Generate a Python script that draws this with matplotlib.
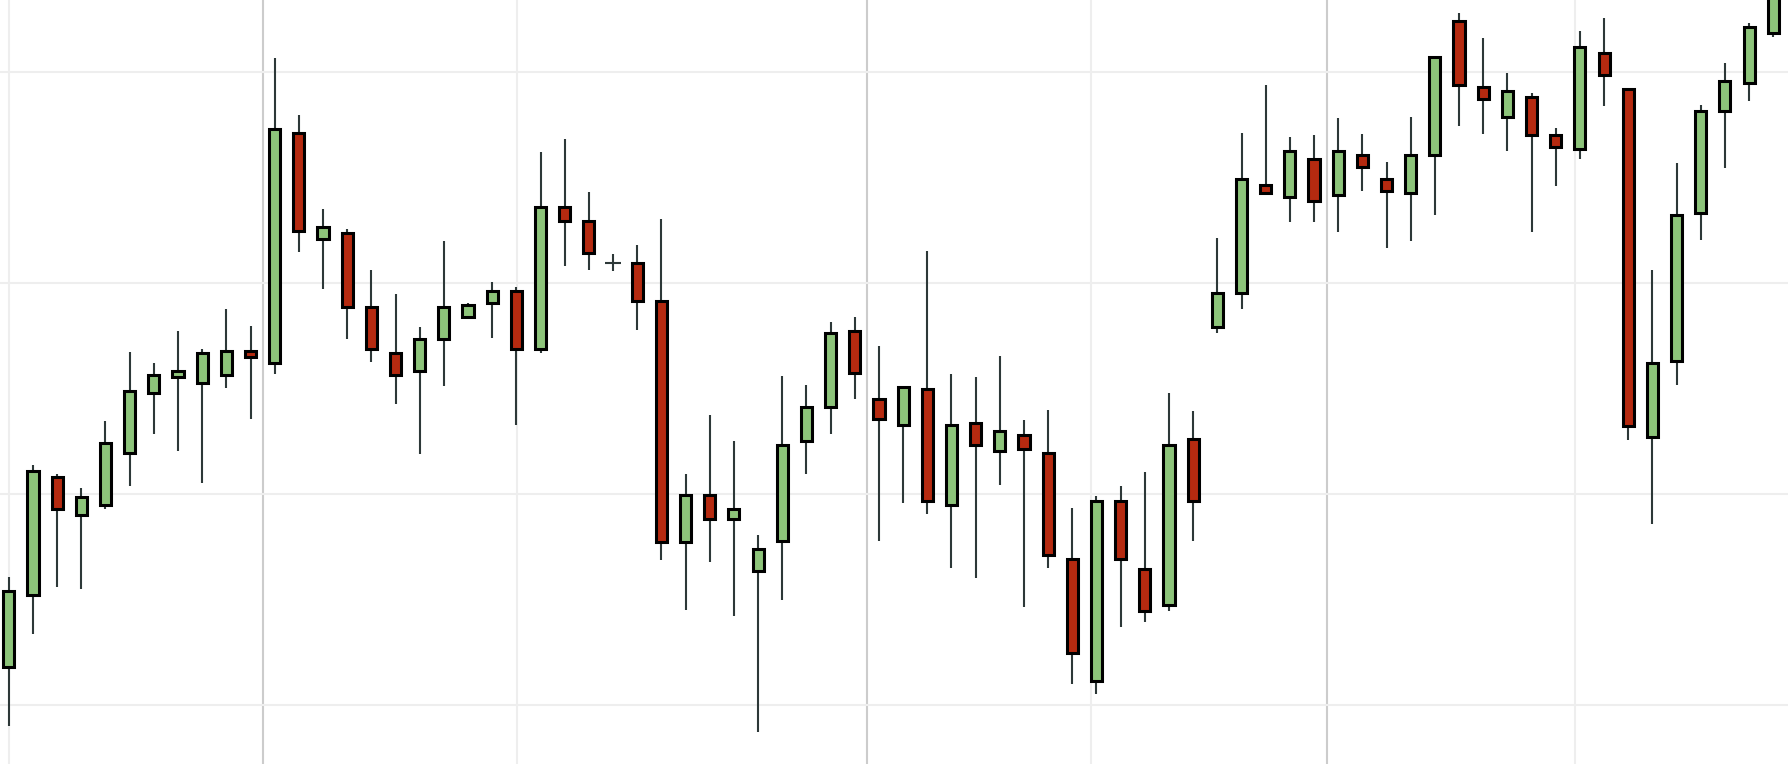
import matplotlib
matplotlib.use('Agg')
import matplotlib.pyplot as plt
import numpy as np

# daily OHLC
opens = [81.81, 85.21, 90.79, 89.01, 89.48, 91.92, 94.76, 95.55, 95.25, 95.61,
         96.77, 96.19, 107.09, 102.08, 102.35, 98.85, 96.68, 95.82, 97.32, 98.36,
         99.03, 99.61, 96.86, 103.58, 102.91, 100.92, 100.92, 99.12, 87.70, 89.94,
         88.81, 86.36, 87.77, 92.50, 94.11, 97.72, 94.48, 93.26, 94.97, 89.48,
         93.35, 92.01, 92.78, 91.92, 86.91, 81.12, 89.68, 86.43, 84.72, 92.59,
         97.92, 99.52, 104.62, 104.06, 105.86, 104.15, 106.05, 104.92, 104.25, 106.05,
         112.39, 109.26, 107.85, 108.79, 106.99, 106.32, 110.87, 109.16, 92.68, 96.28,
         103.30, 108.12, 109.46, 111.82]
highs = [86.08, 91.34, 90.95, 90.26, 93.47, 96.72, 96.19, 97.69, 96.86, 98.75,
         97.97, 110.62, 107.92, 103.51, 102.52, 100.62, 99.47, 97.88, 101.98, 99.05,
         100.02, 99.79, 106.21, 106.79, 104.29, 101.34, 101.80, 103.00, 90.95, 93.75,
         92.48, 88.04, 95.59, 95.15, 98.13, 98.38, 97.00, 95.06, 101.50, 95.66,
         95.55, 96.54, 93.49, 93.95, 89.34, 89.89, 90.35, 91.04, 94.78, 93.93,
         102.12, 107.09, 109.37, 106.88, 106.99, 107.80, 107.04, 105.72, 107.85, 110.69,
         112.79, 111.59, 109.92, 108.98, 107.34, 111.91, 112.56, 109.23, 100.60, 105.68,
         108.42, 110.41, 112.32, 115.30]
lows = [79.00, 83.38, 85.57, 85.51, 89.29, 90.35, 92.82, 92.01, 90.51, 94.99,
        93.54, 95.66, 101.45, 99.72, 97.35, 96.26, 94.23, 91.90, 95.11, 98.36,
        97.39, 93.26, 96.65, 100.81, 100.62, 100.53, 97.74, 86.84, 84.51, 86.78,
        84.19, 78.70, 84.95, 90.93, 92.85, 94.51, 87.77, 89.54, 89.04, 86.50,
        85.99, 90.40, 84.65, 86.50, 80.98, 80.52, 83.68, 83.94, 84.47, 87.77,
        97.62, 98.75, 104.20, 102.89, 102.89, 102.42, 104.34, 101.66, 101.98, 103.19,
        107.41, 107.02, 106.25, 102.38, 104.57, 105.86, 108.38, 92.55, 88.58, 95.15,
        102.01, 105.42, 108.61, 111.63]
closes = [85.39, 91.07, 89.27, 89.84, 92.41, 94.88, 95.61, 95.82, 96.68, 96.77,
          96.47, 107.27, 102.45, 102.63, 98.85, 96.86, 95.61, 97.32, 98.85, 98.94,
          99.61, 96.86, 103.58, 102.91, 101.41, 100.92, 99.12, 87.70, 89.94, 88.81,
          89.27, 87.38, 92.31, 94.11, 97.62, 95.71, 93.54, 95.06, 89.68, 93.26,
          92.31, 92.96, 92.11, 87.12, 82.48, 89.68, 86.91, 84.47, 92.31, 89.68,
          99.52, 104.92, 104.25, 106.23, 103.88, 106.23, 105.47, 104.34, 106.05, 110.69,
          109.35, 108.70, 109.07, 106.99, 106.42, 111.17, 109.83, 93.19, 96.19, 103.21,
          108.12, 109.56, 112.12, 114.77]

# grid positions (in candle index units)
minor_x = [0, 21.03, 44.77, 64.81]
major_x = [10.53, 35.5, 54.53]
price_grid = [80, 90, 100, 110]

UP = '#8dc47a'
DOWN = '#b52a10'
WICK = '#2d3838'

o = np.array(opens)
h = np.array(highs)
l = np.array(lows)
c = np.array(closes)
x = np.arange(len(o))

fig = plt.figure(figsize=(17.88, 7.64), dpi=100)
ax = fig.add_axes([0, 0, 1, 1])

for gx in minor_x:
    ax.axvline(gx, color='#eeeeee', lw=1.5, zorder=0)
for gx in major_x:
    ax.axvline(gx, color='#cccccc', lw=1.5, zorder=0)
for gy in price_grid:
    ax.axhline(gy, color='#eeeeee', lw=1.5, zorder=0)

ax.vlines(x, l, h, color=WICK, lw=1.5, zorder=2)

doji = o == c
body = ~doji
colors = np.where(c >= o, UP, DOWN)
ax.bar(x[body], np.abs(c - o)[body], bottom=np.minimum(o, c)[body], width=0.46,
       color=colors[body], edgecolor='black', linewidth=2.2, zorder=3)
ax.hlines(o[doji], x[doji] - 0.33, x[doji] + 0.33, color=WICK, lw=1.5, zorder=3)

ax.set_xlim(-0.364, 73.61)
ax.set_ylim(77.2, 113.39)
ax.axis('off')

fig.savefig('out.png', dpi=100, facecolor='white')
